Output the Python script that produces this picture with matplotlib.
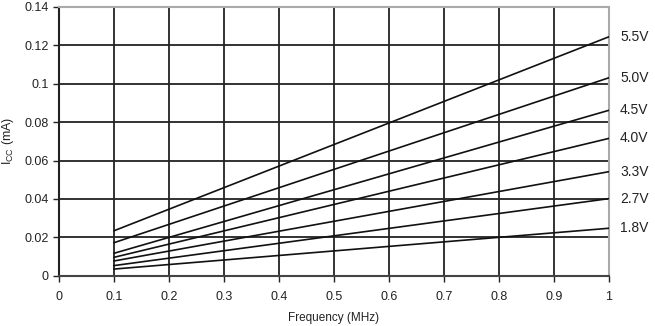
import numpy as np
import matplotlib.pyplot as plt

plt.rcParams['font.family'] = ['Liberation Sans', 'DejaVu Sans']

freq = [0.1, 1.0]
voltages = ['5.5V', '5.0V', '4.5V', '4.0V', '3.3V', '2.7V', '1.8V']
icc = [
    [0.0235, 0.1243],
    [0.0173, 0.1030],
    [0.0118, 0.0861],
    [0.0097, 0.0715],
    [0.0078, 0.0542],
    [0.0054, 0.0402],
    [0.0036, 0.0248],
]
xticks = [0, 0.1, 0.2, 0.3, 0.4, 0.5, 0.6, 0.7, 0.8, 0.9, 1]
yticks = [0, 0.02, 0.04, 0.06, 0.08, 0.1, 0.12, 0.14]

fig = plt.figure(figsize=(6.55, 3.26), dpi=100)
ax = fig.add_axes([0.0901, 0.1534, 0.8397, 0.8266])

for v, vals in zip(voltages, icc):
    ax.plot(freq, vals, color='#111111', lw=1.2, zorder=3)
    ax.text(1.0 + 0.02, vals[1], v, fontsize=10, va='center', ha='left',
            color='#222222', clip_on=False)

ax.set_xlim(0, 1)
ax.set_ylim(0, 0.14)
ax.set_xticks(xticks)
ax.set_xticklabels([f'{t:g}' for t in xticks])
ax.set_yticks(yticks)
ax.set_yticklabels([f'{t:g}' for t in yticks])
ax.tick_params(labelsize=9, colors='#222222', length=4, width=1)
ax.tick_params(axis='x', pad=7)

ax.grid(True, color='#222222', lw=1.3, zorder=1)
ax.set_axisbelow(True)
ax.spines['left'].set_color('#222222')
ax.spines['bottom'].set_color('#444444')
ax.spines['top'].set_color('#aaaaaa')
ax.spines['right'].set_color('#aaaaaa')
for s in ax.spines.values():
    s.set_linewidth(1.5)

ax.set_xlabel('Frequency (MHz)', fontsize=8.5, color='#222222', labelpad=6)
ax.set_ylabel(r'I$_{\mathregular{CC}}$ (mA)', fontsize=9, color='#222222', labelpad=6)

fig.savefig('out.png', dpi=100)
